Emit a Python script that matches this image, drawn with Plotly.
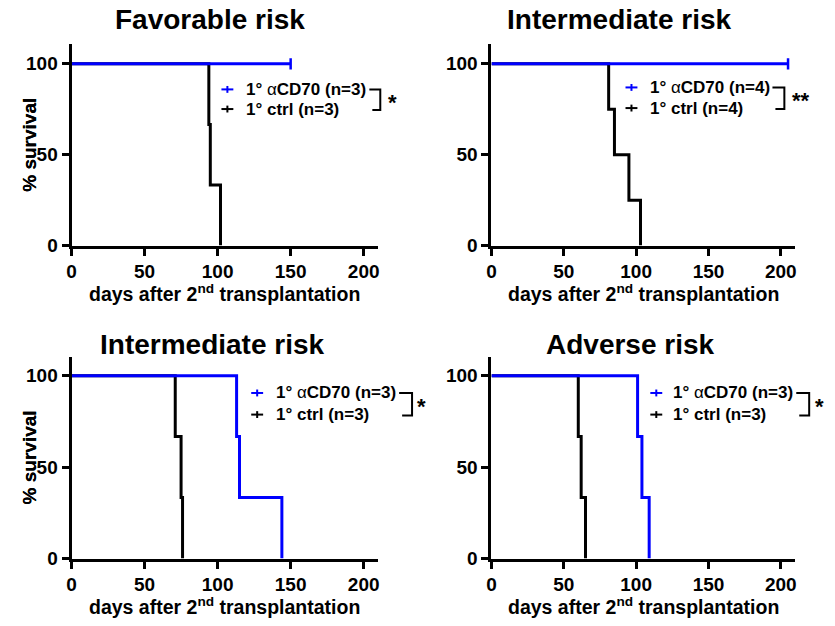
import plotly.graph_objects as go

W, H = 835, 626

# ---------------- data ----------------
titles = ["Favorable risk", "Intermediate risk", "Intermediate risk", "Adverse risk"]
stars = ["*", "**", "*", "*"]
n_cd70 = [3, 4, 3, 3]
n_ctrl = [3, 4, 3, 3]

# ctrl survival curves (time of each step, survival after step)
ctrl_t = [[0, 94, 95, 102], [0, 81, 85, 95, 103], [0, 71, 75, 76], [0, 60, 62, 65]]
ctrl_s = [[100, 66.67, 33.33, 0], [100, 75, 50, 25, 0], [100, 66.67, 33.33, 0], [100, 66.67, 33.33, 0]]
# aCD70 survival curves
cd70_t = [[0, 150], [0, 205], [0, 113, 115, 144], [0, 101, 104, 109]]
cd70_s = [[100, 100], [100, 100], [100, 66.67, 33.33, 0], [100, 66.67, 33.33, 0]]
cd70_censored = [True, True, False, False]

x_ticks = [0, 50, 100, 150, 200]
y_ticks = [0, 50, 100]

BLUE = "#0000ff"
FONT = "Liberation Sans, Arial, sans-serif"

# ---------------- layout geometry (pixels) ----------------
# (left, right, top, bottom) of each plot area
panels = [(67, 376, 45, 250), (490, 796, 45, 250), (67, 376, 363, 568.5), (490, 796, 363, 568.5)]
yr_top = [110.8, 110.8, 110.4, 110.4]
title_pos = [(206, 20), (619, 20), (209, 351), (630, 351)]
leg = [  # symbol x0, text x, row1 y, row2 y, bracket x0, bracket x1, star x
    (218, 241, 91, 111, 367, 378, 390),
    (625, 648, 89, 110, 773, 785, 802),
    (248, 271, 400, 422, 397, 410, 420),
    (650, 671, 400, 422, 797, 810, 820),
]

def px(x):
    return x / W

def py(y):
    return 1 - y / H

fig = go.Figure()
shapes = []
annotations = []

for i in range(4):
    ax = "" if i == 0 else str(i + 1)
    l, r, t, b = panels[i]
    # ctrl first so the blue line is drawn on top
    fig.add_trace(go.Scatter(
        x=ctrl_t[i], y=ctrl_s[i], mode="lines", line=dict(color="black", width=3, shape="hv"),
        xaxis="x" + ax, yaxis="y" + ax, showlegend=False, hoverinfo="skip"))
    fig.add_trace(go.Scatter(
        x=cd70_t[i], y=cd70_s[i], mode="lines",
        line=dict(color=BLUE, width=3, shape="hv"),
        xaxis="x" + ax, yaxis="y" + ax, showlegend=False, hoverinfo="skip"))
    if cd70_censored[i]:
        fig.add_trace(go.Scatter(
            x=cd70_t[i][-1:], y=cd70_s[i][-1:], mode="markers",
            marker=dict(symbol="line-ns", size=8, line=dict(color=BLUE, width=2.5)),
            xaxis="x" + ax, yaxis="y" + ax, showlegend=False, hoverinfo="skip"))

    axis_common = dict(showline=True, linecolor="black", linewidth=3, ticks="outside",
                       ticklen=7, tickwidth=2.5, tickcolor="black", showgrid=False, zeroline=False,
                       tickfont=dict(family=FONT, size=19, color="black", weight="bold"))
    fig.layout["xaxis" + ax] = dict(domain=[px(l), px(r)], range=[0, 210], tickvals=x_ticks,
                                    anchor="y" + ax, **axis_common)
    fig.layout["yaxis" + ax] = dict(domain=[py(b), py(t)], range=[0, yr_top[i]], tickvals=y_ticks,
                                    anchor="x" + ax, **axis_common)

    # titles
    tx, ty = title_pos[i]
    annotations.append(dict(x=px(tx), y=py(ty), xref="paper", yref="paper", text=titles[i],
                            showarrow=False, xanchor="center", yanchor="middle",
                            font=dict(family=FONT, size=28, color="black", weight="bold")))
    # axis titles
    annotations.append(dict(x=px(25), y=py((t + b) / 2), xref="paper", yref="paper", text="% survival",
                            textangle=-90, showarrow=False, xanchor="center", yanchor="middle",
                            font=dict(family=FONT, size=19, color="black", weight="bold")))
    annotations.append(dict(x=px((l + r) / 2), y=py(b + 48), xref="paper", yref="paper",
                            text="days after 2<sup>nd</sup> transplantation",
                            showarrow=False, xanchor="center", yanchor="middle",
                            font=dict(family=FONT, size=19.5, color="black", weight="bold")))

    # legend
    sx, tx2, r1, r2, bx0, bx1, stx = leg[i]
    for yy, col, lab in [(r1, BLUE, "1° <span style='font-weight:normal'>α</span>CD70 (n=%d)" % n_cd70[i]),
                         (r2, "black", "1° ctrl (n=%d)" % n_ctrl[i])]:
        shapes.append(dict(type="line", xref="paper", yref="paper", x0=px(sx), x1=px(sx + 12),
                           y0=py(yy), y1=py(yy), line=dict(color=col, width=2)))
        shapes.append(dict(type="line", xref="paper", yref="paper", x0=px(sx + 6), x1=px(sx + 6),
                           y0=py(yy - 3.5), y1=py(yy + 3.5), line=dict(color=col, width=2)))
        annotations.append(dict(x=px(tx2), y=py(yy), xref="paper", yref="paper", text=lab,
                                showarrow=False, xanchor="left", yanchor="middle",
                                font=dict(family=FONT, size=17, color="black", weight="bold")))
    shapes.append(dict(type="path", xref="paper", yref="paper",
                       path="M %f,%f L %f,%f L %f,%f L %f,%f" % (px(bx0), py(r1), px(bx1), py(r1),
                                                                px(bx1), py(r2 + 1), px(bx0 + 3), py(r2 + 1)),
                       line=dict(color="black", width=2)))
    annotations.append(dict(x=px(stx), y=py((r1 + r2) / 2 + 3), xref="paper", yref="paper", text=stars[i],
                            showarrow=False, xanchor="center", yanchor="middle",
                            font=dict(family=FONT, size=22, color="black", weight="bold")))

fig.update_layout(width=W, height=H, margin=dict(l=0, r=0, t=0, b=0),
                  paper_bgcolor="white", plot_bgcolor="white",
                  shapes=shapes, annotations=annotations, showlegend=False)

fig.write_html("out.html")
